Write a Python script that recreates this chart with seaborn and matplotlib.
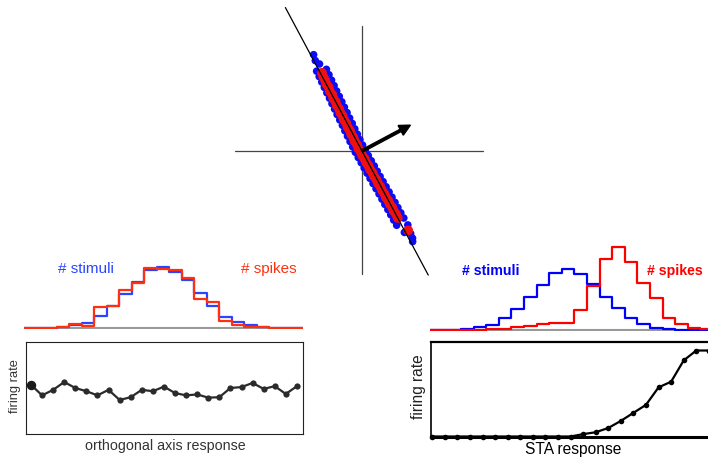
import numpy as np
import pandas as pd
import seaborn as sns
import matplotlib.pyplot as plt

sns.set_style("white")
plt.rcParams['font.family'] = ['Liberation Sans', 'DejaVu Sans']

W, H = 708, 464

# --- stimulus cloud: position along the orthogonal axis / along the STA axis
stim_along = [-92, -86, -80, -74, -68, -62, -56, -50, -44, -38, -32, -26, -20, -14, -8,
              -2, 4, 10, 16, 22, 28, 34, 40, 46, 52, 58, 64, 70, 76, 82,
              -89, -83, -77, -71, -65, -59, -53, -47, -41, -35, -29, -23, -17, -11, -5,
              1, 7, 13, 19, 25, 31, 37, 43, 49, 55, 61, 67, 73, 79,
              -108, -102, -97, 87, 92, 96, 101, 104]
stim_across = [-2.4, -2.7, -3.0, -3.3, -3.6, -3.8, -4.2, -4.4, -4.8, -5.0, -5.2, -5.6, -5.8, -6.1, -6.3,
               -6.5, -6.4, -6.2, -6.1, -6.0, -5.8, -5.6, -5.4, -5.2, -5.1, -5.0, -4.8, -4.7, -4.6, -4.4,
               7.1, 6.8, 6.5, 6.2, 5.9, 5.7, 5.4, 5.1, 4.9, 4.6, 4.4, 4.1, 3.8, 3.5, 3.3,
               3.2, 3.4, 3.6, 3.8, 3.9, 4.0, 4.2, 4.4, 4.6, 4.7, 4.9, 5.0, 5.1, 5.3,
               2.7, 1.4, 3.5, 5.6, -1.0, 4.0, 3.5, 2.0]

spike_along = [-88, -84, -80, -76, -72, -68, -64, -60, -56, -52, -48, -44, -40, -36, -32, -28, -24,
               -20, -16, -12, -8, -4, 0, 4, 8, 12, 16, 20, 24, 28, 32, 36, 40, 44, 48, 52, 56,
               60, 64, 68, 72, 76, 92]
spike_across = [1.5, 0.8, 0.9, 0.2, 0.6, -0.2, 0.3, -0.5, 0.0, -0.8, -0.3, -1.0, -0.6, -1.2, -0.8,
                -1.4, -1.0, -1.6, -1.2, -1.8, -1.4, -2.0, -1.6, -1.9, -1.4, -1.7, -1.2, -1.5, -1.0,
                -1.3, -0.8, -1.1, -0.6, -0.9, -0.4, -0.7, -0.2, -0.5, 0.1, -0.3, 0.3, 0.0, 3.3]

sta_dir = np.array([0.88, 0.47])
orth_dir = np.array([0.47, -0.88])
sta_len = 55

# --- histograms (counts per bin)
left_edges = np.linspace(-2.875, 2.875, 24)
left_stim = [0, 0, 3, 13, 30, 50, 117, 223, 340, 457, 580, 607, 557, 480, 347, 223, 113, 57, 30, 7, 3, 0, 0]
left_spk = [0, 2, 3, 10, 40, 20, 207, 223, 380, 447, 597, 590, 580, 500, 290, 257, 73, 33, 13, 10, 3, 2, 0]

right_edges = np.linspace(-3.5, 2.25, 24)
right_stim = [0, 0, 3, 13, 33, 50, 123, 213, 333, 450, 567, 610, 563, 463, 333, 223, 123, 57, 23, 7, 0, 0, 0]
right_spk = [2, 3, 3, 3, 5, 10, 10, 27, 43, 60, 67, 70, 197, 440, 707, 830, 683, 473, 323, 123, 63, 23, 7]

# --- nonlinearities
orth_rate = [10.7, 8.4, 9.6, 11.3, 10.0, 9.3, 8.4, 9.6, 7.4, 8.0, 9.6, 9.3, 10.3,
             8.9, 8.4, 8.6, 7.9, 8.0, 10.0, 10.2, 11.1, 9.8, 10.4, 8.7, 10.4]
sta_rate = [0, 0, 0, 0, 0, 0, 0, 0, 0, 0, 0, 0, 0.5, 0.9, 1.8, 3.3, 5.0, 6.7,
            10.4, 11.6, 16.1, 18.2, 18.2]

fig = plt.figure(figsize=(W / 100, H / 100), dpi=100)


def add_ax(x0, y0, x1, y1):
    return fig.add_axes([x0 / W, 1 - y1 / H, (x1 - x0) / W, (y1 - y0) / H])


def step_hist(ax, edges, counts, color):
    centers = (edges[:-1] + edges[1:]) / 2
    df = pd.DataFrame({'r': centers, 'n': counts})
    sns.histplot(data=df, x='r', weights='n', bins=list(edges), element='step', fill=False,
                 color=color, linewidth=1.6, ax=ax)


# ---------- scatter of stimuli / spikes
ax = add_ax(230, 0, 490, 280)
ax.plot([-127, 121], [0, 0], color='#444444', lw=0.9, zorder=1)
ax.plot([0, 0], [-123, 125], color='#444444', lw=0.9, zorder=1)

along = np.array(stim_along + spike_along, dtype=float)
across = np.array(stim_across + spike_across, dtype=float)
cloud = pd.DataFrame({
    'x': along * orth_dir[0] + across * sta_dir[0],
    'y': along * orth_dir[1] + across * sta_dir[1],
    'kind': ['stim'] * len(stim_along) + ['spike'] * len(spike_along),
})
sns.scatterplot(data=cloud, x='x', y='y', hue='kind', size='kind',
                palette={'stim': '#0b0bf5', 'spike': '#f01010'},
                sizes={'stim': 30, 'spike': 50}, linewidth=0, legend=False, zorder=2, ax=ax)
ax.plot(np.array([-163, 141]) * orth_dir[0], np.array([-163, 141]) * orth_dir[1],
        color='black', lw=0.9, zorder=4)
ax.arrow(0, 0, sta_len * sta_dir[0], sta_len * sta_dir[1], width=2.5, head_width=11,
         head_length=11, length_includes_head=True, color='black', zorder=5)
ax.set_xlim(-132, 128)
ax.set_ylim(-128, 152)
ax.axis('off')

# ---------- left histogram (orthogonal axis)
ax = add_ax(24, 255, 303, 330)
ax.axhline(0, color='#999999', lw=1.5)
step_hist(ax, left_edges, left_stim, '#2a45ff')
step_hist(ax, left_edges, left_spk, '#ff3010')
ax.set_xlim(-2.775, 2.805)
ax.set_ylim(-10, 740)
ax.axis('off')

# ---------- right histogram (STA axis)
ax = add_ax(430, 240, 713, 332)
ax.axhline(0, color='#999999', lw=1.5)
step_hist(ax, right_edges, right_stim, '#0000ff')
step_hist(ax, right_edges, right_spk, '#ff0000')
ax.set_xlim(-3.365, 2.25)
ax.set_ylim(-10, 910)
ax.axis('off')

# ---------- left nonlinearity
ax = add_ax(26, 343, 303, 435)
idx = np.arange(len(orth_rate))
sns.lineplot(x=idx, y=orth_rate, color='#2b2b2b', linewidth=1.6, marker='o',
             markersize=4.5, markeredgewidth=0, ax=ax)
ax.plot(idx[:1], orth_rate[:1], 'o', color='#1a1a1a', ms=5.8)
ax.set_xlim(-0.45, 24.55)
ax.set_ylim(0, 20)
ax.set_xticks([])
ax.set_yticks([])
ax.set_xlabel('')
ax.set_ylabel('')
for sp in ax.spines.values():
    sp.set_color('#222222')
    sp.set_linewidth(0.8)

# ---------- right nonlinearity
ax = add_ax(431, 343, 715, 437.5)
idx = np.arange(len(sta_rate))
sns.lineplot(x=idx, y=sta_rate, color='black', linewidth=1.6, marker='o',
             markersize=4, markeredgewidth=0, ax=ax)
for ln in ax.lines:
    ln.set_clip_on(False)
ax.set_xlim(-0.1, 22.49)
ax.set_ylim(0, 20)
ax.set_xticks([])
ax.set_yticks([])
ax.set_xlabel('')
ax.set_ylabel('')
ax.spines['left'].set_linewidth(1.2)
ax.spines['top'].set_linewidth(1.6)
ax.spines['bottom'].set_linewidth(2.2)
for sp in ax.spines.values():
    sp.set_color('black')


# ---------- text
def txt(x, y, s, **kw):
    fig.text(x / W, 1 - y / H, s, ha='center', va='center', **kw)


txt(86, 269, '# stimuli', color='#2a45ff', fontsize=11)
txt(269, 269, '# spikes', color='#ff3010', fontsize=11)
txt(491, 271, '# stimuli', color='#0000ff', fontsize=10.2, fontweight='bold')
txt(675, 271, '# spikes', color='#ff0000', fontsize=10.2, fontweight='bold')
txt(165, 446, 'orthogonal axis response', color='#333333', fontsize=10.3)
txt(15, 386, 'firing rate', color='#333333', fontsize=9.3, rotation=90)
txt(573, 450, 'STA response', color='black', fontsize=11.2)
txt(419, 387, 'firing rate', color='#222222', fontsize=11.2, rotation=90)

fig.savefig('out.png', dpi=100)
